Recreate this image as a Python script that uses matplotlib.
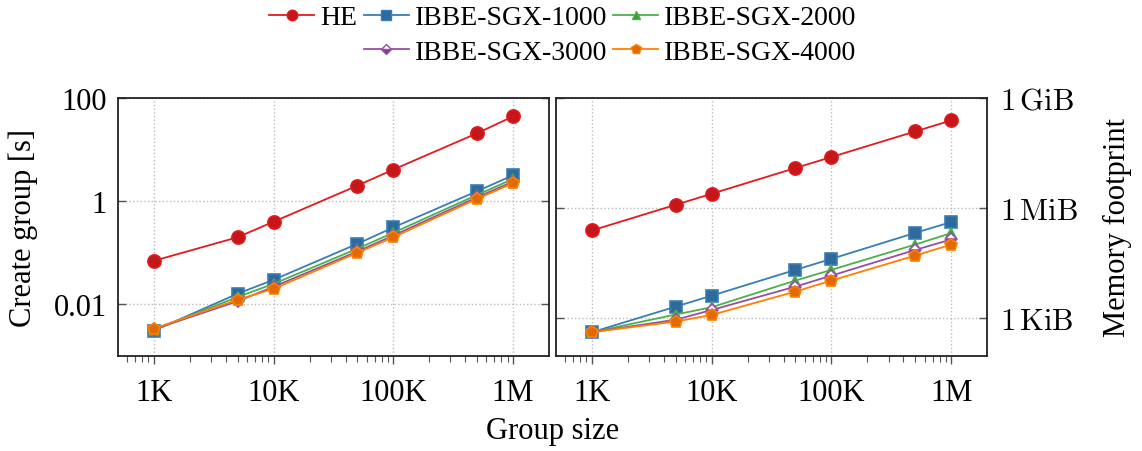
import numpy as np
import matplotlib.pyplot as plt
from matplotlib.lines import Line2D
from matplotlib.ticker import FixedLocator, LogLocator, NullFormatter

plt.rcParams['font.family'] = ['Liberation Serif', 'DejaVu Serif']
plt.rcParams['font.size'] = 22
plt.rcParams['mathtext.fontset'] = 'cm'

group_sizes = [1e3, 5e3, 1e4, 5e4, 1e5, 5e5, 1e6]
xtick_vals = [1e3, 1e4, 1e5, 1e6]
xtick_labels = ['1K', '10K', '100K', '1M']

# create group time [s]
time_he = [0.07, 0.20, 0.40, 2.0, 4.1, 20.7, 44.0]
time_1000 = [0.0031, 0.0161, 0.030, 0.149, 0.31, 1.56, 3.18]
time_2000 = [0.0032, 0.0139, 0.025, 0.12, 0.245, 1.32, 2.7]
time_3000 = [0.0033, 0.0115, 0.022, 0.106, 0.216, 1.19, 2.4]
time_4000 = [0.0034, 0.0123, 0.020, 0.10, 0.20, 1.11, 2.23]

# memory footprint [KiB]
mem_he = [251, 1261, 2521, 12760, 25520, 127600, 255000]
mem_1000 = [0.415, 2.07, 4.14, 20.97, 41.9, 215, 425]
mem_2000 = [0.415, 1.26, 2.0, 10.7, 21.0, 103, 212]
mem_3000 = [0.415, 0.91, 1.68, 7.31, 14.6, 73.5, 142]
mem_4000 = [0.415, 0.81, 1.23, 5.35, 10.7, 51.6, 103]

names = ['HE', 'IBBE-SGX-1000', 'IBBE-SGX-2000', 'IBBE-SGX-3000', 'IBBE-SGX-4000']
line_colors = ['#e41a1c', '#377eb8', '#4daf4a', '#984ea3', '#ff7f00']
face_colors = ['#c4161b', '#2e6a9c', '#3f9a3d', '#7a3e83', '#e06a00']
markers = ['o', 's', '^', 'D', 'p']
fills = ['full', 'full', 'full', 'bottom', 'full']
msizes = [9.5, 8.5, 7, 6, 9]

time_series = [time_he, time_1000, time_2000, time_3000, time_4000]
mem_series = [mem_he, mem_1000, mem_2000, mem_3000, mem_4000]

fig = plt.figure(figsize=(11.42, 4.52), dpi=100)
ax1 = fig.add_axes([0.1033, 0.2102, 0.3774, 0.5708])
ax2 = fig.add_axes([0.4869, 0.2102, 0.3774, 0.5708])


def style_axis(ax):
    ax.set_xscale('log')
    ax.set_yscale('log')
    ax.set_xlim(10 ** 2.7, 10 ** 6.3)
    ax.xaxis.set_major_locator(FixedLocator(xtick_vals))
    ax.set_xticklabels(xtick_labels)
    ax.xaxis.set_minor_locator(LogLocator(base=10, subs=np.arange(2, 10)))
    ax.xaxis.set_minor_formatter(NullFormatter())
    ax.yaxis.set_minor_locator(FixedLocator([]))
    ax.tick_params(axis='x', which='major', direction='out', length=6, width=1, color='#555555', pad=10)
    ax.tick_params(axis='x', which='minor', direction='out', length=4, width=0.8, color='#555555')
    ax.tick_params(axis='y', which='major', direction='in', length=6, width=1, color='#555555',
                   left=True, right=True, pad=8)
    ax.grid(True, which='major', linestyle=':', color='#bbbbbb', linewidth=1)
    for sp in ax.spines.values():
        sp.set_linewidth(1.3)
        sp.set_color('#222222')


for i in range(5):
    for ax, ys in ((ax1, time_series[i]), (ax2, mem_series[i])):
        ax.plot(group_sizes, ys, color=line_colors[i], marker=markers[i], ms=msizes[i],
                mfc=face_colors[i], mfcalt='white', fillstyle=fills[i],
                mec=line_colors[i], mew=1.2, lw=1.3)

style_axis(ax1)
ax1.set_ylim(1e-3, 1e2)
ax1.yaxis.set_major_locator(FixedLocator([1e-2, 1, 1e2]))
ax1.set_yticklabels(['0.01', '1', '100'])
ax1.set_ylabel('Create group [s]', va='center')
ax1.yaxis.set_label_coords(-0.22, 0.5)

style_axis(ax2)
ax2.set_ylim(2 ** -3.43, 2 ** 20)
ax2.yaxis.set_major_locator(FixedLocator([1, 1024, 1048576]))
ax2.set_yticklabels([r'$1\,\mathrm{KiB}$', r'$1\,\mathrm{MiB}$', r'$1\,\mathrm{GiB}$'])
ax2.tick_params(axis='y', labelleft=False, labelright=True, pad=9)
ax2.yaxis.set_label_position('right')
ax2.set_ylabel('Memory footprint', va='center', rotation=90)
ax2.yaxis.set_label_coords(1.302, 0.5)

fig.text(0.484, 1 - 432 / 452, 'Group size', ha='center', va='center')

handles = []
for i in range(5):
    handles.append(Line2D([], [], color=line_colors[i], marker=markers[i], ms=msizes[i] * 0.8,
                          mfc=face_colors[i], mfcalt='white', fillstyle=fills[i],
                          mec=line_colors[i], lw=1.3))
blank = Line2D([], [], color='none')
order_h = [handles[0], blank, handles[1], handles[3], handles[2], handles[4]]
order_l = [names[0], '', names[1], names[3], names[2], names[4]]
fig.legend(order_h, order_l, ncol=3, loc='upper center', bbox_to_anchor=(0.493, 1.042),
           frameon=False, handlelength=1.62, handletextpad=0.22, columnspacing=0.22,
           labelspacing=0.33, fontsize=20)

fig.savefig('out.png', dpi=100)
